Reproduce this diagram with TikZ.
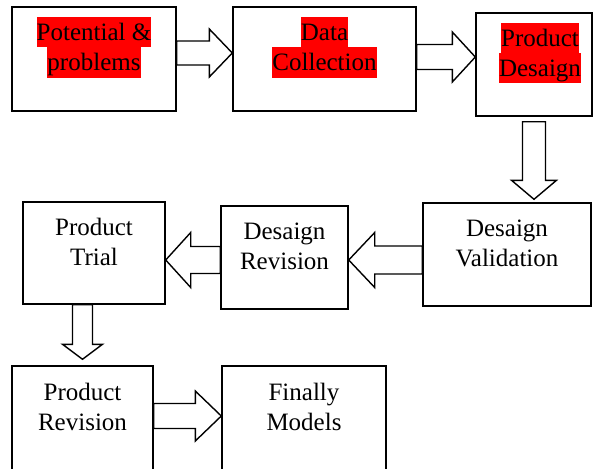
\documentclass[tikz,border=0pt]{standalone}
\usepackage{fontspec}
\setmainfont{Liberation Serif}
\usetikzlibrary{calc}

\tikzset{
  stage/.style={draw, line width=1.4pt, inner sep=0pt},
  txt/.style={align=center, yshift=11.5pt, inner sep=0pt, font=\rmfamily\fontsize{25}{30}\selectfont},
  blockarrow/.style={line width=1.4pt, line join=miter},
}
\newcommand{\redmark}[1]{{\setlength{\fboxsep}{0pt}\colorbox{red}{\rule[-6.5pt]{0pt}{30pt}#1}}}
% tail, tip, half shaft, half head, head length
\newcommand{\blockarrow}[5]{%
  \path #1 coordinate (ba-tail) #2 coordinate (ba-tip);
  \path ($(ba-tip)!#5!(ba-tail)$) coordinate (ba-head);
  \draw[blockarrow] ($(ba-tail)!#3!90:(ba-tip)$) -- ($(ba-head)!#3!90:(ba-tip)$)
    -- ($(ba-head)!#4!90:(ba-tip)$) -- (ba-tip) -- ($(ba-head)!#4!-90:(ba-tip)$)
    -- ($(ba-head)!#3!-90:(ba-tip)$) -- ($(ba-tail)!#3!-90:(ba-tip)$) -- cycle;
}

\begin{document}
\begin{tikzpicture}[x=1pt, y=-1pt]
  \useasboundingbox (0,0) rectangle (593,468);
  \clip (0,0) rectangle (593,468);
  \node[stage, minimum width=164pt, minimum height=104pt,
    label={[txt, name=pot-t]center:\redmark{Potential \&}\\\redmark{problems}}] (pot) at (94,59) {};
  \node[stage, minimum width=183pt, minimum height=104pt,
    label={[txt, name=data-t]center:\redmark{Data}\\\redmark{Collection}}] (data) at (324.5,59) {};
  \node[stage, minimum width=116pt, minimum height=103pt,
    label={[txt, xshift=6pt, name=design-t]center:\redmark{Product}\\\redmark{Desaign}}] (design) at (534,64.5) {};
  \node[stage, minimum width=168pt, minimum height=103pt,
    label={[txt, name=valid-t]center:Desaign\\Validation}] (valid) at (507,254.5) {};
  \node[stage, minimum width=127pt, minimum height=103pt,
    label={[txt, name=drev-t]center:Desaign\\Revision}] (drev) at (284.5,257.5) {};
  \node[stage, minimum width=142pt, minimum height=102pt,
    label={[txt, name=trial-t]center:Product\\Trial}] (trial) at (94,253) {};
  \node[stage, minimum width=141pt, minimum height=104pt,
    label={[txt, name=prev-t]center:Product\\Revision}] (prev) at (82.5,418) {};
  \node[stage, minimum width=164pt, minimum height=104pt,
    label={[txt, name=final-t]center:Finally\\Models}] (final) at (304,418) {};

  \blockarrow{($(pot.east)+(0,-6)$)}{($(data.west)+(0,-6)$)}{12pt}{24pt}{23pt}
  \blockarrow{($(data.east)+(0,-2)$)}{($(data.east -| design.west)+(0,-2)$)}{12.5pt}{25pt}{23pt}
  \blockarrow{($(design.south)+(0,5)$)}{($(design.south |- valid.north)+(0,-3)$)}{11.5pt}{22.5pt}{19pt}
  \blockarrow{($(valid.west)+(0,5.5)$)}{($(valid.west -| drev.east)+(0,5.5)$)}{14pt}{27.5pt}{26pt}
  \blockarrow{($(drev.west)+(0,2.5)$)}{($(drev.west -| trial.east)+(0,2.5)$)}{13.5pt}{27.5pt}{25pt}
  \blockarrow{(trial.south -| prev.north)}{($(prev.north)+(0,-6)$)}{10pt}{20pt}{15pt}
  \blockarrow{($(prev.east)+(0,-2)$)}{($(prev.east -| final.west)+(0,-2)$)}{12.5pt}{25pt}{26pt}
\end{tikzpicture}
\end{document}
